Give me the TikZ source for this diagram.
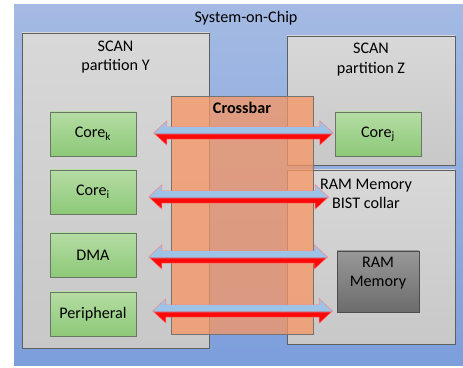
\documentclass[tikz,border=0pt]{standalone}
\usepackage{fontspec}
\setmainfont{Carlito}
\usetikzlibrary{calc,fit,positioning,shapes.arrows}

\definecolor{socTop}{RGB}{164,186,227}
\definecolor{socBot}{RGB}{124,158,219}
\definecolor{partTop}{RGB}{216,216,216}
\definecolor{partBot}{RGB}{200,200,200}
\definecolor{partLine}{RGB}{95,95,95}
\definecolor{coreTop}{RGB}{182,220,164}
\definecolor{coreBot}{RGB}{140,201,120}
\definecolor{coreLine}{RGB}{105,120,100}
\definecolor{ramTop}{RGB}{152,152,152}
\definecolor{ramBot}{RGB}{108,108,108}
\definecolor{xbarFill}{RGB}{248,150,98}
\definecolor{busRed}{RGB}{255,8,8}
\definecolor{busBlue}{RGB}{157,195,230}

\pgfdeclareverticalshading{busshade}{100bp}{color(0bp)=(busRed); color(47bp)=(busRed); color(51bp)=(busBlue); color(100bp)=(busBlue)}

\tikzset{
    box/.style = {draw=partLine, rectangle, inner sep=0pt},
    soc/.style = {rectangle, inner sep=0pt, top color=socTop, bottom color=socBot},
    part/.style = {box, top color=partTop, bottom color=partBot},
    core/.style = {box, draw=coreLine, top color=coreTop, bottom color=coreBot},
    mem/.style = {box, draw=black!70, top color=ramTop, bottom color=ramBot},
    xbar/.style = {box, draw=black!55, fill=xbarFill, fill opacity=.75},
    title/.style = {font=\fontsize{13.8}{16.4}\selectfont, align=center, inner sep=0pt},
    bus/.style = {double arrow, shading=busshade, draw=red!50!white, line width=.4pt,
        inner xsep=0pt, inner ysep=0.18cm, double arrow head extend=0.18cm,
        double arrow tip angle=85}
}

% fat two-way bus: from anchor, to anchor, shift at start, shift at end
\newcommand{\busarrow}[4]{%
    \path let \p1=($(#1)+(#3)$), \p2=($(#2)+(#4)$), \n1={\x2-\x1} in
        node[bus, minimum height=\n1, anchor=west] at (\p1) {};}

\begin{document}
\begin{tikzpicture}[x=0.03cm, y=-0.03cm]
    \useasboundingbox (0,0) rectangle (463,368);
    % chip and the three partitions
    \node[soc, fit={(14,5) (470,366)}] (soc) {};
    \node[title, below=0.2cm of soc.north, xshift=0.12cm] (socLbl) {System-on-Chip};
    \node[part, fit={(22,33) (209,348)}] (partY) {};
    \node[title, below=0.24cm of partY.north] (partYLbl) {SCAN\\partition Y};
    \node[part, fit={(287,36) (455,165)}] (partZ) {};
    \node[title, below=0.22cm of partZ.north] (partZLbl) {SCAN\\partition Z};
    \node[part, fit={(287,170) (455,344)}] (collar) {};
    \node[title, below=0.28cm of collar.north, xshift=-0.15cm] (collarLbl) {RAM Memory\\BIST collar};
    % cores and peripherals
    \node[core, fit={(50,112) (136,156)}] (coreK) {};
    \node[title] (coreKLbl) at (coreK) {Core\textsubscript{k}};
    \node[core, fit={(50,170) (136,214)}] (coreI) {};
    \node[title] (coreILbl) at (coreI) {Core\textsubscript{i}};
    \node[core, fit={(50,233) (136,277)}] (dma) {};
    \node[title] (dmaLbl) at (dma) {DMA};
    \node[core, fit={(50,292) (136,336)}] (periph) {};
    \node[title] (periphLbl) at (periph) {Peripheral};
    \node[core, fit={(335,112) (421,156)}] (coreJ) {};
    \node[title] (coreJLbl) at (coreJ) {Core\textsubscript{j}};
    \node[mem, fit={(337,251) (419,312)}] (ram) {};
    \node[title] (ramLbl) at ([yshift=0.25cm]ram) {RAM\\Memory};
    % crossbar on top
    \node[xbar, fit={(171,96) (313,334)}] (xbar) {};
    \node[title, font=\fontsize{13.8}{16.4}\selectfont\bfseries, below=0.18cm of xbar.north] (xbarLbl) {Crossbar};
    % buses
    \busarrow{coreK.east}{coreJ.west}{17,-1}{-2,0}
    \busarrow{coreI.east}{xbar.east}{12,5}{15,0}
    \busarrow{dma.east}{xbar.east}{12,2}{14,0}
    \busarrow{periph.east}{xbar.east}{16,-3}{19,0}
\end{tikzpicture}
\end{document}
